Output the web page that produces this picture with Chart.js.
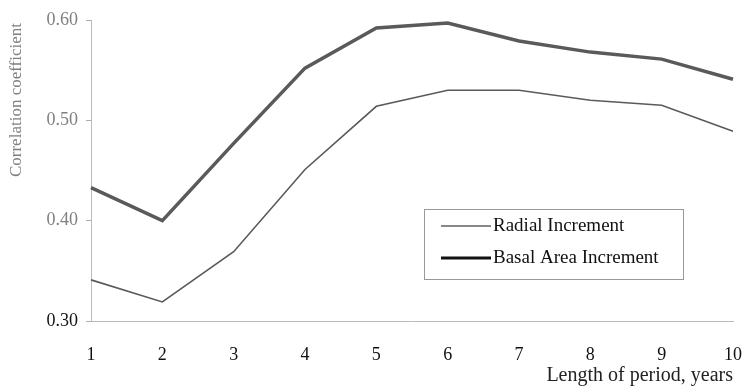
<!DOCTYPE html>
<html lang="en">
<head>
    <meta charset="UTF-8">
    <title>Correlation coefficient vs length of period</title>
    <script src="https://cdn.jsdelivr.net/npm/chart.js"></script>
    <style>
        html, body { margin: 0; padding: 0; background: #fff; }
        #wrap { width: 752px; height: 388px; }
    </style>
</head>
<body>
    <div id="wrap"><canvas id="corrChart" width="752" height="388"></canvas></div>

    <script>
        const periods = ['1', '2', '3', '4', '5', '6', '7', '8', '9', '10'];
        const radialIncrement = [0.341, 0.319, 0.369, 0.451, 0.514, 0.530, 0.530, 0.520, 0.515, 0.489];
        const basalAreaIncrement = [0.433, 0.400, 0.477, 0.552, 0.592, 0.597, 0.579, 0.568, 0.561, 0.541];
        const yTicks = [0.30, 0.40, 0.50, 0.60];
        const yTitle = 'Correlation coefficient';

        const serif = "'Liberation Serif', 'Times New Roman', serif";

        // legend box sits inside the plot, lower right; y title drawn by hand so it can sit near the top
        const boxLegend = {
            id: 'boxLegend',
            afterDraw(chart) {
                const ctx = chart.ctx;
                const x = 424, y = 209, w = 259, h = 70;
                ctx.save();
                ctx.fillStyle = '#fff';
                ctx.fillRect(x, y, w, h);
                ctx.strokeStyle = '#999';
                ctx.lineWidth = 1;
                ctx.strokeRect(x + 0.5, y + 0.5, w, h);
                ctx.font = '19px ' + serif;
                ctx.textBaseline = 'middle';
                ctx.fillStyle = '#111';
                chart.data.datasets.forEach((ds, i) => {
                    const ly = y + 17 + i * 32;
                    ctx.beginPath();
                    ctx.strokeStyle = '#111';
                    ctx.lineWidth = i === 0 ? 1 : 3;
                    ctx.moveTo(x + 17, ly);
                    ctx.lineTo(x + 67, ly);
                    ctx.stroke();
                    ctx.fillText(ds.label, x + 69, ly);
                });

                ctx.translate(17, chart.chartArea.top + 3);
                ctx.rotate(-Math.PI / 2);
                ctx.font = '17px ' + serif;
                ctx.fillStyle = '#808080';
                ctx.textAlign = 'right';
                ctx.fillText(yTitle, 0, 0);
                ctx.restore();
            }
        };

        new Chart(document.getElementById('corrChart'), {
            type: 'line',
            data: {
                labels: periods,
                datasets: [{
                    label: 'Radial Increment',
                    data: radialIncrement,
                    borderColor: '#5a5a5a',
                    borderWidth: 1.6,
                    pointRadius: 0,
                    tension: 0
                }, {
                    label: 'Basal Area Increment',
                    data: basalAreaIncrement,
                    borderColor: '#5a5a5a',
                    borderWidth: 3.5,
                    pointRadius: 0,
                    tension: 0
                }]
            },
            options: {
                responsive: false,
                animation: false,
                layout: { padding: { top: 20, right: 0, left: 0, bottom: 0 } },
                plugins: {
                    legend: { display: false },
                    tooltip: { enabled: false }
                },
                scales: {
                    x: {
                        type: 'category',
                        offset: false,
                        grid: { display: false },
                        border: { color: '#bbb', dash: [6, 7] },
                        ticks: {
                            color: '#111',
                            padding: 15,
                            font: { family: serif, size: 18 }
                        },
                        title: {
                            display: true,
                            text: 'Length of period, years',
                            align: 'end',
                            color: '#222',
                            font: { family: serif, size: 20 },
                            padding: { top: 2, bottom: 0 }
                        },
                        afterFit: s => { s.height = 67; s.paddingRight = 19; s.paddingLeft = 0; }
                    },
                    y: {
                        min: 0.30,
                        max: 0.60,
                        afterBuildTicks: s => { s.ticks = yTicks.map(v => ({ value: v })); },
                        grid: { drawOnChartArea: false, tickLength: 5, color: '#aaa' },
                        border: { color: '#bbb' },
                        ticks: {
                            padding: 8,
                            color: c => c.tick.value === 0.30 ? '#111' : '#808080',
                            font: { family: serif, size: 18 },
                            callback: v => v.toFixed(2)
                        },
                        afterFit: s => { s.width = 91; }
                    }
                }
            },
            plugins: [boxLegend]
        });
    </script>
</body>
</html>
